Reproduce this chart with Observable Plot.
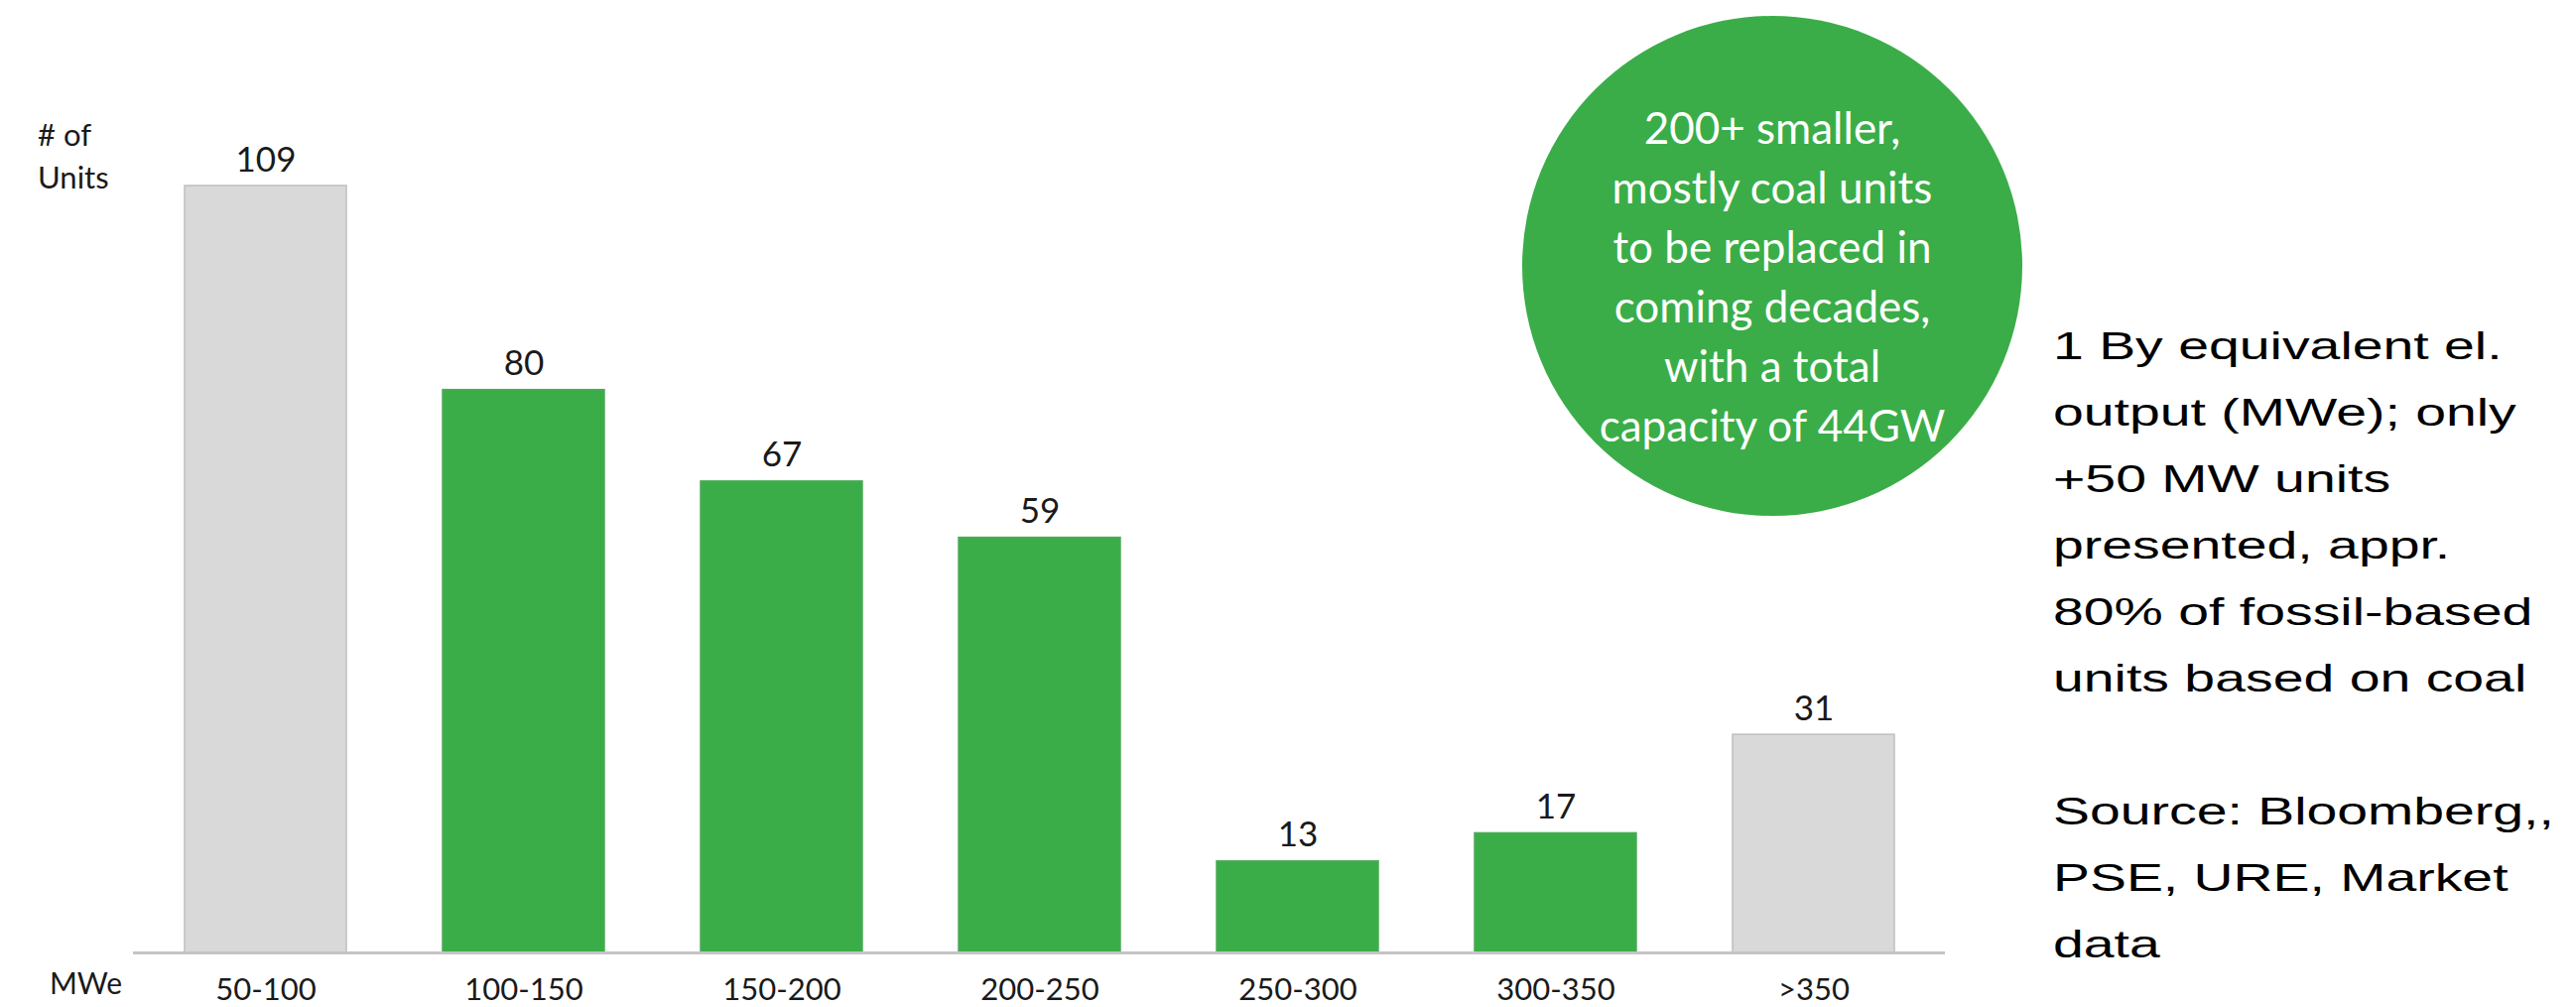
<!DOCTYPE html>
<html>
<head>
<meta charset="utf-8">
<script src="https://cdn.jsdelivr.net/npm/d3@7"></script>
<script src="https://cdn.jsdelivr.net/npm/@observablehq/plot@0.6"></script>
<style>
  html, body { margin: 0; padding: 0; background: #fff; }
  body { width: 2596px; height: 1015px; overflow: hidden; position: relative; font-family: Lato, "Open Sans", sans-serif; }
  #chart { position: absolute; left: 0; top: 0; }
  .ylab { position: absolute; left: 38px; top: 114px; font-size: 31px; line-height: 43px; color: #1a1a1a; }
  .xlab { position: absolute; left: 50px; top: 970px; font-size: 30px; line-height: 40px; color: #1a1a1a; }
  .bubble { position: absolute; left: 1534px; top: 16px; width: 504px; height: 504px; border-radius: 50%; background: #3aad48; }
  .bubble-text { position: absolute; left: 1534px; top: 98px; width: 504px; text-align: center; color: #fff; font-size: 44px; line-height: 60px; }
  .note { position: absolute; left: 2069px; top: 315px; font-family: "Liberation Sans", Arial, sans-serif; font-size: 39px; line-height: 67px; color: #000; white-space: nowrap; transform: scaleX(1.42); transform-origin: left top; }
</style>
</head>
<body>
<div id="chart"></div>
<div class="ylab"># of<br>Units</div>
<div class="xlab">MWe</div>
<div class="bubble"></div>
<div class="bubble-text">200+ smaller,<br>mostly coal units<br>to be replaced in<br>coming decades,<br>with a total<br>capacity of 44GW</div>
<div class="note">1 By equivalent el.<br>output (MWe); only<br>+50 MW units<br>presented, appr.<br>80% of fossil-based<br>units based on coal<br><br>Source: Bloomberg,,<br>PSE, URE, Market<br>data</div>
<script>
const ranges = ["50-100", "100-150", "150-200", "200-250", "250-300", "300-350", ">350"];
const units = [109, 80, 67, 59, 13, 17, 31];
const status = ["other", "replace", "replace", "replace", "replace", "replace", "other"];

const data = ranges.map((r, i) => ({range: r, units: units[i], status: status[i]}));

const chart = Plot.plot({
  width: 2000,
  height: 1015,
  marginLeft: 134,
  marginRight: 40,
  marginTop: 187,
  marginBottom: 55,
  style: {fontFamily: "Lato, 'Open Sans', sans-serif", background: "transparent"},
  x: {domain: ranges, paddingInner: 0.374, paddingOuter: 0.19, axis: null},
  y: {domain: [0, 109], axis: null},
  color: {domain: ["other", "replace"], range: ["#d9d9d9", "#3aad48"]},
  marks: [
    Plot.barY(data, {
      x: "range", y: "units", fill: "status",
      stroke: d => d.status === "other" ? "#bfbfbf" : "#4fa95a",
      strokeWidth: 1.5
    }),
    Plot.ruleY([0], {stroke: "#c4c4c4", strokeWidth: 3}),
    Plot.text(data, {
      x: "range", y: "units", text: d => String(d.units),
      dy: -15, lineAnchor: "bottom", fontSize: 35, fill: "#1a1a1a"
    }),
    Plot.text(data, {
      x: "range", text: "range", frameAnchor: "bottom",
      dy: 47, lineAnchor: "bottom", fontSize: 31, fill: "#1a1a1a"
    })
  ]
});
document.getElementById("chart").appendChild(chart);
</script>
</body>
</html>
